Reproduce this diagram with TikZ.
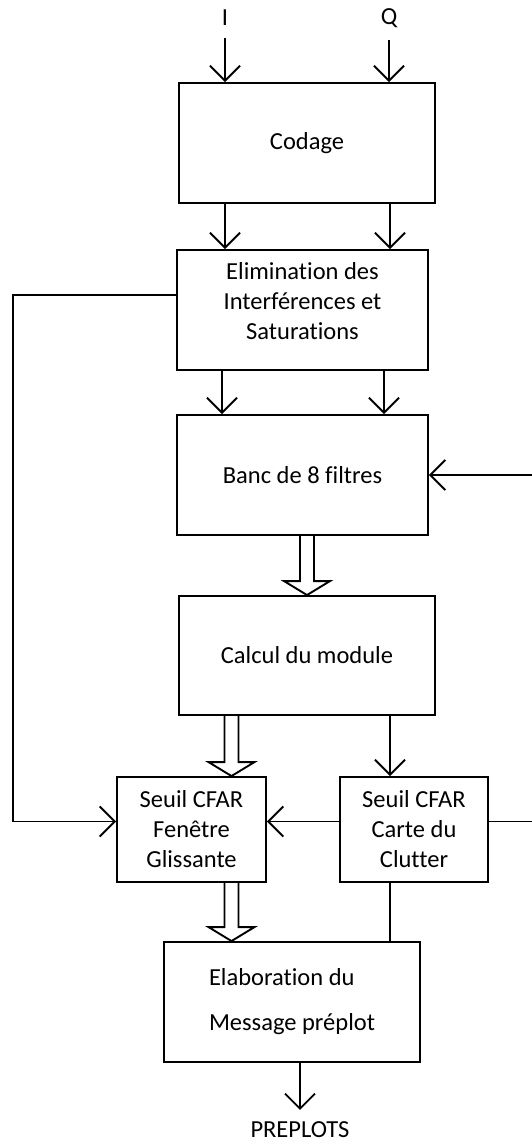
\documentclass[tikz,border=0pt]{standalone}
\usepackage{fontspec}
\setmainfont{Carlito}[Ligatures=NoCommon]
\usetikzlibrary{positioning,arrows.meta,calc}

\begin{document}
\begin{tikzpicture}[
  x=1pt, y=-1pt,
  font=\fontsize{24.5}{30}\selectfont,
  line width=1.9pt,
  blk/.style  = {draw, align=center, inner sep=2pt},
  inlbl/.style = {inner sep=0pt, outer sep=12pt},
  arr/.style  = {-{Straight Barb[length=15pt,width=30pt,line width=1.9pt]}},
  fat/.style  = {to path={let \p1=(\tikztostart), \p2=(\tikztotarget) in
                  (\x1-7pt,\y1) -- (\x1-7pt,\y2+14pt) -- (\x1-23pt,\y2+14pt)
                  -- (\x1,\y2) -- (\x1+23pt,\y2+14pt) -- (\x1+7pt,\y2+14pt)
                  -- (\x1+7pt,\y1)}},
]
\useasboundingbox (0,0) rectangle (531,1142);

% inputs
\node[inlbl] (inI) at (225,18) {I};
\node[inlbl] (inQ) at (389,18) {Q};

% blocks
\node[blk, minimum width=256pt, minimum height=120pt] (codage) at (307,143) {Codage};
\node[blk, minimum width=251pt, minimum height=120pt] (elim) at (302.5,310)
  {Elimination des\\ Interférences et\\ Saturations\\[-12pt]};
\node[blk, minimum width=251pt, minimum height=120pt] (banc) at (302.5,475) {Banc de 8 filtres};
\node[blk, minimum width=256pt, minimum height=119pt] (calc) at (307,655.5) {Calcul du module};
\node[blk, minimum width=149pt, minimum height=105pt] (fen) at (191.5,829.5)
  {Seuil CFAR\\ Fenêtre\\ Glissante};
\node[blk, minimum width=148pt, minimum height=105pt] (carte) at (414,829.5)
  {Seuil CFAR\\ Carte du\\ Clutter};
\node[blk, minimum width=256pt, minimum height=120pt, align=left] (elab) at (292,1002)
  {Elaboration du\\[15pt] Message préplot};

\node[inlbl] (out) at (300,1130) {PREPLOTS};

% simple arrows
\draw[arr] (inI.south) -- (inI.south |- codage.north);
\draw[arr] (inQ.south) -- (inQ.south |- codage.north);
\draw[arr] ([xshift=-82pt]codage.south) -- ([xshift=-82pt]codage.south |- elim.north);
\draw[arr] ([xshift=83pt]codage.south) -- ([xshift=83pt]codage.south |- elim.north);
\draw[arr] ([xshift=-80.5pt]elim.south) -- ([xshift=-80.5pt]elim.south |- banc.north);
\draw[arr] ([xshift=81.5pt]elim.south) -- ([xshift=81.5pt]elim.south |- banc.north);
\draw[arr] ([xshift=83pt]calc.south) -- ([xshift=83pt]calc.south |- carte.north);
\draw[arr] ([yshift=8pt]carte.west) -- ([yshift=8pt]fen.east);
\draw ([xshift=-24pt]carte.south) -- ([xshift=-24pt]carte.south |- elab.north);
\draw[arr] (elab.south -| out.north) -- (out.north);

% feedback loops
\draw[arr] ([yshift=15pt]elim.west) -- ++(-163,0) |- ([yshift=8pt]fen.west);
\draw[arr] ([yshift=8pt]carte.east) -- ++(57,0) |- (banc.east);

% hollow arrows
\draw[fat] (banc.south -| calc.north) to (calc.north);
\draw[fat] ([xshift=-75.5pt]calc.south) to ([xshift=-75.5pt]calc.south |- fen.north);
\draw[fat] ([xshift=40pt]fen.south) to ([xshift=40pt]fen.south |- elab.north);

\end{tikzpicture}
\end{document}
